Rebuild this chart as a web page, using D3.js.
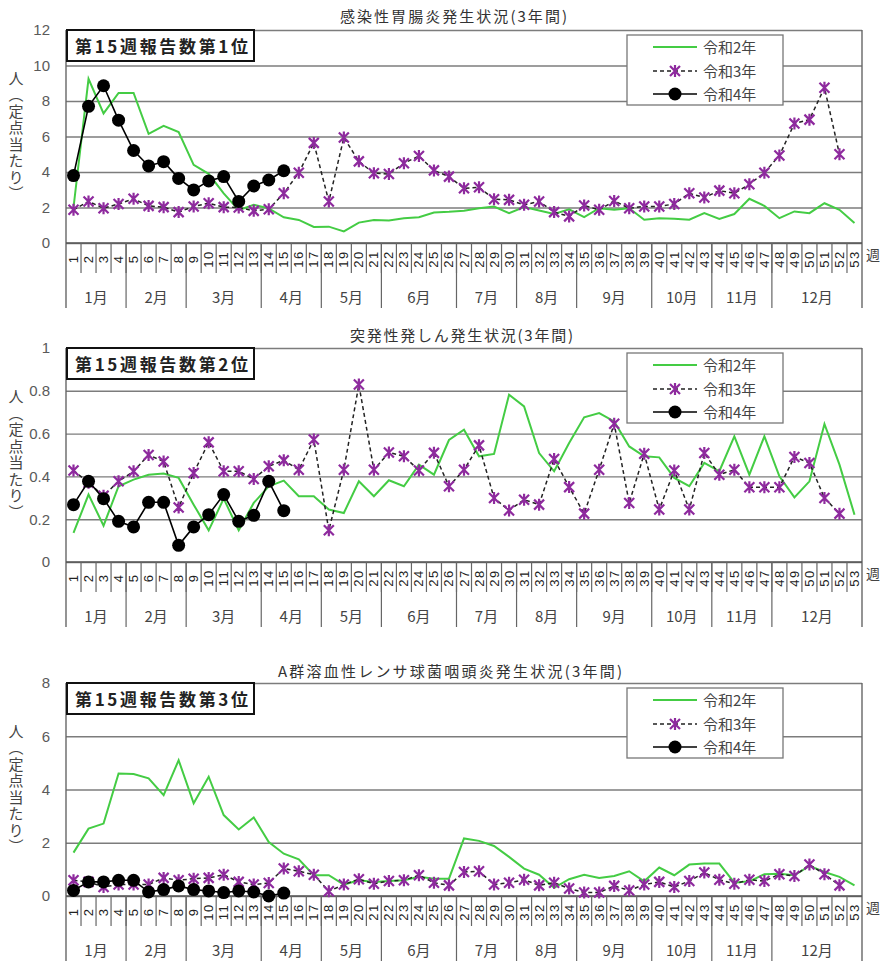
<!DOCTYPE html>
<html><head><meta charset="utf-8">
<script src="https://cdn.jsdelivr.net/npm/d3@7"></script>
<style>
html,body{margin:0;padding:0;background:#fff;}
svg{display:block;}
text{font-family:"Noto Sans CJK JP","Noto Sans",sans-serif;}
</style>
</head><body>
<svg id="chart" width="881" height="961"></svg>
<script>
// ---------- DATA ----------
const weeks = d3.range(1, 54);
const monthNames = ["1月","2月","3月","4月","5月","6月","7月","8月","9月","10月","11月","12月"];
const monthLastWeek = [4, 8, 13, 17, 21, 26, 30, 34, 39, 43, 47, 53];
const seriesNames = ["令和2年","令和3年","令和4年"];
const yTitle = "人（定点当たり）";

// 感染性胃腸炎
const gastroTitle = "感染性胃腸炎発生状況(3年間)";
const gastroRank = "第15週報告数第1位";
const gastroTicks = [0, 2, 4, 6, 8, 10, 12];
const gastroTickLabels = ["0","2","4","6","8","10","12"];
const gastroR2 = [2.0, 9.25, 7.3, 8.45, 8.45, 6.15, 6.6, 6.25, 4.4, 3.9, 2.8, 1.85, 2.15, 1.95, 1.45, 1.3, 0.9, 0.92, 0.65, 1.15,
  1.3, 1.27, 1.4, 1.45, 1.72, 1.76, 1.82, 1.96, 2.05, 1.68, 2.02, 1.83, 1.64, 1.9, 1.46, 1.96, 1.87, 1.96, 1.31, 1.4,
  1.36, 1.31, 1.68, 1.36, 1.63, 2.49, 2.09, 1.4, 1.78, 1.68, 2.24, 1.87, 1.12];
const gastroR3 = [1.87, 2.34, 1.96, 2.2, 2.49, 2.09, 2.02, 1.74, 2.06, 2.24, 2.02, 2.0, 1.81, 1.9, 2.8, 3.96, 5.64, 2.34, 5.94, 4.6,
  3.93, 3.89, 4.49, 4.9, 4.09, 3.74, 3.08, 3.14, 2.47, 2.43, 2.15, 2.34, 1.74, 1.5, 2.11, 1.87, 2.37, 1.96, 2.06, 2.06,
  2.2, 2.8, 2.56, 2.95, 2.8, 3.31, 3.96, 4.93, 6.73, 6.95, 8.75, 5.0];
const gastroR4 = [3.8, 7.7, 8.86, 6.92, 5.21, 4.34, 4.58, 3.64, 2.99, 3.5, 3.74, 2.34, 3.21, 3.55, 4.07];

// 突発性発しん
const roseolaTitle = "突発性発しん発生状況(3年間)";
const roseolaRank = "第15週報告数第2位";
const roseolaTicks = [0, 0.2, 0.4, 0.6, 0.8, 1];
const roseolaTickLabels = ["0","0.2","0.4","0.6","0.8","1"];
const roseolaR2 = [0.136, 0.315, 0.17, 0.354, 0.385, 0.408, 0.413, 0.393, 0.268, 0.148, 0.296, 0.148, 0.276, 0.354, 0.38, 0.307, 0.307, 0.245, 0.229, 0.377,
  0.307, 0.382, 0.354, 0.455, 0.408, 0.57, 0.618, 0.494, 0.505, 0.782, 0.727, 0.509, 0.424, 0.556, 0.676, 0.696, 0.657, 0.54, 0.494, 0.489,
  0.393, 0.354, 0.463, 0.424, 0.587, 0.408, 0.587, 0.4, 0.302, 0.377, 0.645, 0.455, 0.221];
const roseolaR3 = [0.428, 0.37, 0.31, 0.377, 0.424, 0.5, 0.47, 0.255, 0.416, 0.559, 0.424, 0.424, 0.388, 0.447, 0.475, 0.431, 0.572, 0.148, 0.431, 0.829,
  0.431, 0.512, 0.494, 0.428, 0.51, 0.354, 0.431, 0.545, 0.299, 0.241, 0.291, 0.268, 0.481, 0.35, 0.226, 0.431, 0.646, 0.276, 0.506, 0.245,
  0.428, 0.245, 0.509, 0.408, 0.431, 0.349, 0.349, 0.349, 0.491, 0.463, 0.299, 0.226];
const roseolaR4 = [0.268, 0.377, 0.296, 0.19, 0.164, 0.279, 0.279, 0.078, 0.164, 0.221, 0.315, 0.19, 0.218, 0.377, 0.24];

// A群溶血性レンサ球菌咽頭炎
const strepTitle = "A群溶血性レンサ球菌咽頭炎発生状況(3年間)";
const strepRank = "第15週報告数第3位";
const strepTicks = [0, 2, 4, 6, 8];
const strepTickLabels = ["0","2","4","6","8"];
const strepR2 = [1.63, 2.53, 2.72, 4.6, 4.58, 4.42, 3.79, 5.1, 3.48, 4.48, 3.04, 2.5, 2.95, 2.03, 1.59, 1.38, 0.78, 0.78, 0.43, 0.59,
  0.53, 0.56, 0.59, 0.72, 0.65, 0.65, 2.16, 2.07, 1.88, 1.47, 1.03, 0.8, 0.31, 0.63, 0.8, 0.68, 0.75, 0.93, 0.55, 1.07,
  0.78, 1.18, 1.22, 1.22, 0.5, 0.55, 0.82, 0.84, 0.78, 1.13, 0.9, 0.72, 0.4];
const strepR3 = [0.59, 0.53, 0.34, 0.43, 0.43, 0.43, 0.68, 0.59, 0.65, 0.68, 0.8, 0.53, 0.43, 0.49, 1.03, 0.93, 0.8, 0.18, 0.43, 0.63,
  0.46, 0.56, 0.59, 0.78, 0.5, 0.4, 0.9, 0.93, 0.43, 0.5, 0.61, 0.4, 0.5, 0.28, 0.13, 0.13, 0.38, 0.21, 0.43, 0.53,
  0.34, 0.56, 0.88, 0.61, 0.46, 0.61, 0.56, 0.82, 0.75, 1.18, 0.82, 0.4];
const strepR4 = [0.21, 0.53, 0.53, 0.59, 0.59, 0.15, 0.24, 0.38, 0.24, 0.19, 0.13, 0.19, 0.15, 0.0, 0.11];

// ---------- LAYOUT ----------
const X0 = 66, X1 = 862;
const GREEN = "#44cc44", PURPLE = "#8e2a9e", BLACK = "#000";
const svg = d3.select("#chart");
const x = d3.scaleBand().domain(weeks).range([X0, X1]).padding(0);
const cx = w => x(w) + x.bandwidth() / 2;

const panels = [
  {title: gastroTitle, rank: gastroRank, ticks: gastroTicks, labels: gastroTickLabels, yMax: 12,
   top: 30, bottom: 243, titleX: 340, titleY: 22, titleW: 227, r2: gastroR2, r3: gastroR3, r4: gastroR4},
  {title: roseolaTitle, rank: roseolaRank, ticks: roseolaTicks, labels: roseolaTickLabels, yMax: 1,
   top: 348, bottom: 562, titleX: 350, titleY: 341, titleW: 223, r2: roseolaR2, r3: roseolaR3, r4: roseolaR4},
  {title: strepTitle, rank: strepRank, ticks: strepTicks, labels: strepTickLabels, yMax: 8,
   top: 683, bottom: 896, titleX: 278, titleY: 677, titleW: 344, r2: strepR2, r3: strepR3, r4: strepR4}
];

function starPath(s) {
  return `M${-s},${-s}L${s},${s}M${-s},${s}L${s},${-s}M0,${-s*1.2}L0,${s*1.2}`;
}

function drawPanel(p) {
  const g = svg.append("g");
  const y = d3.scaleLinear().domain([0, p.yMax]).range([p.bottom, p.top]);

  // horizontal grid + y labels via axis
  const yAxis = d3.axisLeft(y).tickValues(p.ticks).tickSize(-(X1 - X0)).tickPadding(16)
    .tickFormat((d, i) => p.labels[i]);
  const ya = g.append("g").attr("transform", `translate(${X0},0)`).call(yAxis);
  ya.select(".domain").remove();
  ya.selectAll(".tick line").attr("stroke", "#7c7c7c").attr("stroke-width", 1.4);
  ya.selectAll(".tick text").attr("fill", "#5a5a5a").style("font-size", "15px")
    .style("font-family", "'Liberation Sans', Arial, sans-serif");

  // left and right vertical borders (extend through label rows)
  g.append("line").attr("x1", X0).attr("x2", X0).attr("y1", p.top).attr("y2", p.bottom + 65)
    .attr("stroke", "#666").attr("stroke-width", 1.4);
  g.append("line").attr("x1", X1).attr("x2", X1).attr("y1", p.top).attr("y2", p.bottom + 65)
    .attr("stroke", "#666").attr("stroke-width", 1.4);
  // baseline
  g.append("line").attr("x1", X0).attr("x2", X1).attr("y1", p.bottom).attr("y2", p.bottom)
    .attr("stroke", "#555").attr("stroke-width", 1.5);

  // week tick separators
  g.selectAll("line.wk").data(weeks.slice(1)).join("line").attr("class", "wk")
    .attr("x1", d => x(d)).attr("x2", d => x(d))
    .attr("y1", p.bottom).attr("y2", p.bottom + 30)
    .attr("stroke", "#666").attr("stroke-width", 1.2);
  // month separators
  g.selectAll("line.mo").data(monthLastWeek.slice(0, -1)).join("line").attr("class", "mo")
    .attr("x1", d => x(d) + x.bandwidth()).attr("x2", d => x(d) + x.bandwidth())
    .attr("y1", p.bottom).attr("y2", p.bottom + 65)
    .attr("stroke", "#666").attr("stroke-width", 1.2);

  // week labels (rotated)
  g.selectAll("text.wk").data(weeks).join("text").attr("class", "wk")
    .attr("transform", d => `translate(${cx(d) + 4.5},${p.bottom + 16}) rotate(-90)`)
    .attr("text-anchor", "middle")
    .attr("fill", "#222")
    .style("font-size", "13px")
    .style("letter-spacing", "1.5px")
    .style("font-family", "'Liberation Sans', Arial, sans-serif")
    .text(d => d);

  // month labels
  g.selectAll("text.mo").data(monthNames).join("text").attr("class", "mo")
    .attr("x", (d, i) => {
      const first = i === 0 ? 1 : monthLastWeek[i - 1] + 1;
      const last = monthLastWeek[i];
      return (x(first) + x(last) + x.bandwidth()) / 2;
    })
    .attr("y", p.bottom + 60)
    .attr("text-anchor", "middle").attr("fill", "#444").style("font-size", "15px")
    .text(d => d);

  // 週 label
  g.append("text").attr("x", 866).attr("y", p.bottom + 17).attr("fill", "#444")
    .style("font-size", "14px").text("週");

  // y-axis title (vertical writing)
  g.append("text").attr("x", 16).attr("y", (p.top + p.bottom) / 2)
    .attr("text-anchor", "middle")
    .style("writing-mode", "vertical-rl")
    .style("font-size", "15px").style("letter-spacing", "1.5px")
    .attr("fill", "#444")
    .text(yTitle);

  // series
  const line = d3.line().x((d, i) => cx(weeks[i])).y(d => y(d));
  g.append("path").datum(p.r2).attr("d", line).attr("fill", "none")
    .attr("stroke", GREEN).attr("stroke-width", 2);

  g.append("path").datum(p.r3).attr("d", line).attr("fill", "none")
    .attr("stroke", "#222").attr("stroke-width", 1.5).attr("stroke-dasharray", "4,3");
  g.selectAll("path.star").data(p.r3).join("path").attr("class", "star")
    .attr("transform", (d, i) => `translate(${cx(weeks[i])},${y(d)})`)
    .attr("d", starPath(5))
    .attr("stroke", PURPLE).attr("stroke-width", 2.2).attr("fill", "none");

  g.append("path").datum(p.r4).attr("d", line).attr("fill", "none")
    .attr("stroke", BLACK).attr("stroke-width", 1.6);
  g.selectAll("circle.dot").data(p.r4).join("circle").attr("class", "dot")
    .attr("cx", (d, i) => cx(weeks[i])).attr("cy", d => y(d)).attr("r", 6.5)
    .attr("fill", BLACK);

  // rank box
  g.append("rect").attr("x", 67).attr("y", p.top).attr("width", 187).attr("height", 31)
    .attr("fill", "#fff").attr("stroke", "#111").attr("stroke-width", 2);
  g.append("text").attr("x", 75).attr("y", p.top + 23)
    .attr("textLength", 173).attr("lengthAdjust", "spacing")
    .style("font-size", "17px").style("font-weight", "bold").attr("fill", "#222")
    .text(p.rank);

  // legend
  const lt = p.top + 5;
  const lg = g.append("g");
  lg.append("rect").attr("x", 627).attr("y", lt).attr("width", 156).attr("height", 70)
    .attr("fill", "#fff").attr("stroke", "#777").attr("stroke-width", 1.3);
  const rows = [lt + 12, lt + 36, lt + 59];
  lg.append("line").attr("x1", 653).attr("x2", 697).attr("y1", rows[0]).attr("y2", rows[0])
    .attr("stroke", GREEN).attr("stroke-width", 2);
  lg.append("line").attr("x1", 653).attr("x2", 697).attr("y1", rows[1]).attr("y2", rows[1])
    .attr("stroke", "#222").attr("stroke-width", 1.5).attr("stroke-dasharray", "4,3");
  lg.append("path").attr("transform", `translate(675,${rows[1]})`).attr("d", starPath(5))
    .attr("stroke", PURPLE).attr("stroke-width", 2.2).attr("fill", "none");
  lg.append("line").attr("x1", 653).attr("x2", 697).attr("y1", rows[2]).attr("y2", rows[2])
    .attr("stroke", BLACK).attr("stroke-width", 1.6);
  lg.append("circle").attr("cx", 675).attr("cy", rows[2]).attr("r", 6.5).attr("fill", BLACK);
  lg.selectAll("text").data(seriesNames).join("text")
    .attr("x", 703).attr("y", (d, i) => rows[i] + 5.5)
    .attr("fill", "#444").style("font-size", "15px").text(d => d);

  // title
  g.append("text").attr("x", p.titleX).attr("y", p.titleY)
    .attr("textLength", p.titleW).attr("lengthAdjust", "spacing")
    .attr("fill", "#333").style("font-size", "15px").text(p.title);
}

panels.forEach(drawPanel);
</script>
</body></html>
